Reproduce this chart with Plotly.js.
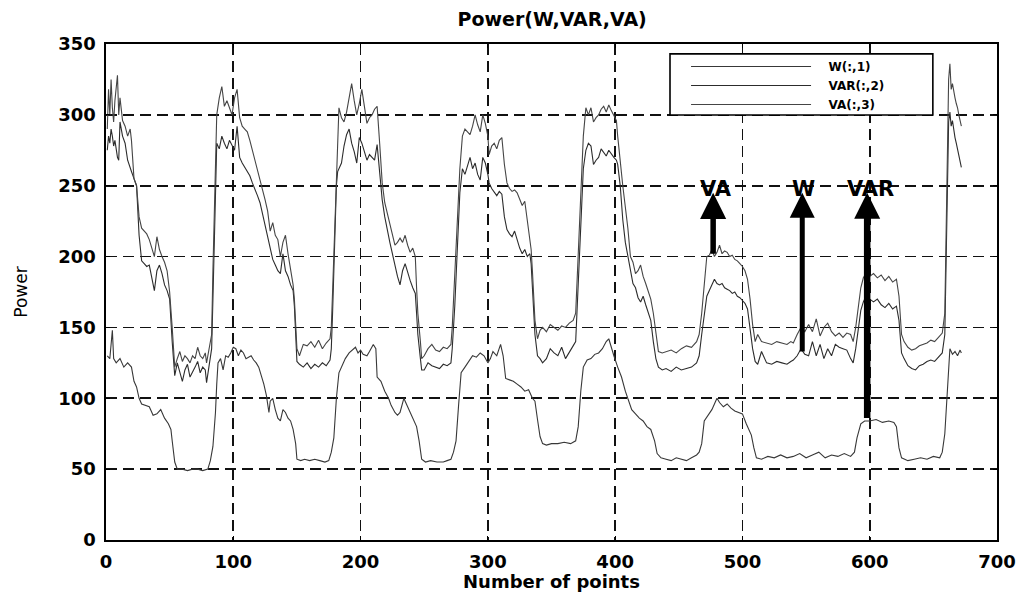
<!DOCTYPE html>
<html>
<head>
<meta charset="utf-8">
<script src="https://cdn.plot.ly/plotly-3.0.1.min.js"></script>
<style>html,body{margin:0;padding:0;background:#fff;}#chart{width:1035px;height:592px;}</style>
</head>
<body>
<div id="chart"></div>
<script>
// ---- Data ----
var wX = [1,3,5,6,8,11,14,17,20,22,24,26,28,31,34,37,40,43,46,49,51,52,54,56,60,64,68,72,76,80,82,84,86,87,88,90,92,94,96,98,100,102,104,106,108,110,112,114,116,118,120,122,124,126,128,129,131,133,135,137,139,141,143,145,147,149,150,153,156,160,164,168,172,175,177,179,181,183,185,188,191,194,196,198,200,202,205,207,210,212,213,216,219,222,224,227,229,231,234,236,238,241,244,246,248,251,255,260,265,268,271,273,275,277,279,282,285,288,291,294,297,300,302,304,307,310,312,314,317,320,323,326,329,332,335,337,339,341,343,346,350,355,360,365,369,371,373,375,378,381,384,387,390,393,395,397,399,402,405,408,410,413,416,419,422,425,428,431,433,436,440,444,448,452,456,460,464,466,468,470,473,476,478,480,482,485,488,491,494,497,500,503,505,507,509,511,515,520,525,530,535,540,545,550,555,560,565,570,575,580,585,588,590,593,596,600,605,610,615,619,621,623,625,630,635,640,645,650,655,657,659,661,662,663,665,667,669,671,672];
var wY = [130,128,148,128,125,128,122,125,122,112,108,100,96,95,94,88,89,92,86,82,78,70,55,50,50,49,50,50,49,50,56,66,90,110,125,128,120,130,129,132,136,135,130,134,132,128,129,130,127,125,122,116,110,102,90,98,100,92,86,84,92,90,86,84,78,68,57,56,57,56,57,56,55,56,62,72,100,118,122,128,132,134,136,132,134,131,130,133,138,135,115,112,105,100,95,90,88,90,100,96,92,86,80,70,57,55,56,55,55,56,57,62,70,95,118,122,126,130,129,132,130,125,128,133,130,138,130,114,113,112,110,108,105,106,100,98,85,73,68,67,68,68,69,68,70,80,105,122,127,128,131,132,135,140,142,135,130,122,115,105,100,92,89,86,84,80,78,70,61,58,57,56,58,57,56,58,60,62,68,84,88,92,96,100,97,94,96,93,91,90,89,82,78,74,65,58,57,59,58,60,58,59,61,58,60,62,58,60,59,61,59,62,72,82,84,84,85,83,84,83,80,65,58,56,57,58,57,59,58,62,75,105,122,135,131,133,130,134,132];

var varX = [1,2,3,4,5,6,7,8,9,10,11,13,15,17,19,20,22,24,26,28,30,32,34,36,38,40,42,44,46,48,50,52,53,54,56,58,60,62,64,66,68,70,72,74,76,78,79,81,83,84,85,86,87,89,91,93,95,97,99,101,103,105,107,109,111,113,115,117,119,121,123,125,127,129,131,133,135,137,139,141,143,145,147,148,149,150,152,155,158,161,164,167,170,173,176,177,178,179,180,181,182,183,185,187,189,191,193,195,197,199,201,203,205,207,209,211,213,215,217,219,221,223,225,227,229,231,233,235,237,239,241,243,244,245,247,248,250,253,256,259,262,265,268,271,272,274,275,277,278,280,282,284,286,288,290,292,294,296,298,300,301,303,305,307,309,311,313,315,317,319,321,323,325,327,329,331,333,334,335,336,337,339,341,343,346,349,352,355,358,361,364,367,369,371,373,375,377,379,381,383,385,387,389,391,393,395,397,399,401,402,404,406,408,410,412,414,416,418,420,422,424,426,428,430,432,434,437,440,444,448,452,456,460,464,466,468,470,472,474,476,478,480,482,484,486,488,490,492,494,496,498,500,502,504,506,508,510,512,515,519,523,527,531,535,538,540,543,546,549,552,555,558,561,564,567,570,573,576,579,582,585,587,589,591,593,595,597,600,603,606,609,612,615,618,621,623,625,627,630,633,636,639,642,645,648,651,654,657,659,660,661,662,663,664,665,666,667,668,669,670,671,672];
var varY = [275,285,280,290,285,278,282,275,270,268,295,285,280,268,262,260,255,250,215,197,195,193,194,186,176,190,194,188,180,176,170,140,124,116,125,118,112,120,124,115,118,122,126,118,122,120,111,125,135,170,210,245,280,276,285,280,276,282,278,275,292,270,266,263,260,257,252,248,243,238,230,222,214,206,198,194,190,188,202,190,186,180,176,165,140,126,124,122,125,121,124,122,125,123,127,135,160,190,220,250,260,262,266,278,286,290,280,274,266,284,280,274,268,272,270,268,279,258,240,228,218,210,202,193,186,180,190,195,188,183,178,174,160,145,128,120,120,125,123,122,121,124,123,125,135,165,190,225,245,262,258,264,270,262,266,258,254,270,266,258,252,248,245,243,246,244,228,219,216,214,218,212,206,202,205,200,202,195,175,160,145,130,128,125,128,135,132,130,136,128,133,137,140,180,230,262,275,280,278,265,268,270,276,273,271,275,272,270,268,265,250,226,210,200,190,181,178,171,168,172,166,160,155,140,128,122,120,121,119,122,120,121,122,125,130,145,160,172,176,180,184,181,180,181,178,177,176,174,175,172,171,169,167,163,150,135,126,124,133,125,124,126,125,124,126,127,130,135,131,130,140,130,138,128,135,130,138,136,135,134,128,125,135,150,162,168,172,170,168,170,166,164,167,163,165,155,132,128,123,121,120,123,124,126,127,126,129,132,145,200,260,295,302,292,296,288,284,280,276,272,268,263];

var vaX = varX;
var vaY = [290,318,300,325,305,295,310,322,328,300,312,296,292,285,290,282,255,250,228,220,218,216,212,205,200,214,205,200,196,190,175,150,132,122,128,133,126,130,128,125,130,128,136,130,128,132,125,135,145,190,230,275,300,312,320,306,310,305,300,312,318,298,292,290,288,282,275,270,262,255,248,240,232,218,224,215,212,200,210,215,202,190,180,170,150,135,130,138,137,140,136,141,135,139,142,150,175,200,230,260,285,305,298,295,302,312,322,310,300,308,318,306,294,298,300,304,306,280,252,238,230,222,215,208,210,213,210,215,208,203,206,200,178,160,140,128,130,135,138,134,133,136,135,138,150,185,205,240,262,285,290,288,286,292,300,293,288,300,294,285,272,278,280,276,282,284,265,252,248,246,247,245,240,236,239,225,215,205,190,170,155,142,148,150,147,152,150,148,151,150,153,155,160,200,250,285,305,300,305,295,298,300,304,306,302,307,303,300,296,285,265,250,235,220,200,196,188,190,194,186,181,176,170,160,145,133,132,133,134,132,135,137,136,140,145,160,180,200,201,205,200,203,208,202,204,203,200,201,198,197,195,193,190,184,170,152,140,145,140,139,138,140,139,138,140,139,145,150,147,152,147,156,144,150,153,147,144,146,143,146,145,140,150,165,178,185,188,186,188,185,187,183,186,182,184,172,145,140,136,134,135,137,138,139,141,140,143,146,160,220,290,325,336,318,322,315,312,308,305,300,296,292];

var xTicks = [0,100,200,300,400,500,600,700];
var yTicks = [0,50,100,150,200,250,300,350];

// arrows: [label, x of arrow, tail y, head y]
var arrowLabels = ['VA','W','VAR'];
var arrowX = [477,547,598];
var arrowTail = [201,132,85];
var arrowHead = [245,245,245];
var arrowWidths = [5.5,5,6.5];
var arrowSizes = [0.95,1.0,0.8];
var labelX = [479,548,601];
var labelY = [248,248,248];

// ---- Plot ----
var font = 'DejaVu Sans, Verdana, sans-serif';
var pad = '\u00a0\u00a0\u00a0';
var traces = [
  {x: wX, y: wY, name: pad + 'W(:,1)', type: 'scatter', mode: 'lines', line: {color: '#383838', width: 1.1}},
  {x: varX, y: varY, name: pad + 'VAR(:,2)', type: 'scatter', mode: 'lines', line: {color: '#2c2c2c', width: 1.1}},
  {x: vaX, y: vaY, name: pad + 'VA(:,3)', type: 'scatter', mode: 'lines', line: {color: '#454545', width: 1.1}}
];

var annotations = [];
for (var i = 0; i < arrowLabels.length; i++) {
  annotations.push({
    x: arrowX[i], y: arrowHead[i], ax: arrowX[i], ay: arrowTail[i],
    xref: 'x', yref: 'y', axref: 'x', ayref: 'y',
    text: '', showarrow: true, arrowhead: 2, arrowsize: arrowSizes[i],
    arrowwidth: arrowWidths[i], arrowcolor: '#000', standoff: 0, startstandoff: 0
  });
  annotations.push({
    x: labelX[i], y: labelY[i], xref: 'x', yref: 'y',
    text: '<b>' + arrowLabels[i] + '</b>', showarrow: false,
    font: {family: font, size: 21, color: '#000'}
  });
}

var axisCommon = {
  showline: true, linecolor: '#000', linewidth: 1.6, mirror: 'ticks',
  ticks: 'inside', ticklen: 4, tickcolor: '#000', tickwidth: 1,
  showgrid: true, gridcolor: '#111', gridwidth: 1.8, griddash: '11px,6px',
  zeroline: false, ticklabelstandoff: 5,
  tickfont: {family: font, size: 18, color: '#000', weight: 'bold'}
};

var layout = {
  width: 1035, height: 592,
  margin: {l: 106, r: 38, t: 44, b: 52},
  paper_bgcolor: '#fff', plot_bgcolor: '#fff',
  title: {text: '<b>Power(W,VAR,VA)</b>', font: {family: font, size: 19, color: '#000'},
          x: 0.5335, xanchor: 'center', y: 0.968, yanchor: 'middle', yref: 'container'},
  xaxis: Object.assign({}, axisCommon, {
    range: [0, 700], tickvals: xTicks,
    title: {text: '<b>Number of points</b>', font: {family: font, size: 18, color: '#000'}, standoff: 3}
  }),
  yaxis: Object.assign({}, axisCommon, {
    range: [0, 350], tickvals: yTicks,
    title: {text: 'Power', font: {family: font, size: 17, color: '#000'}, standoff: 26}
  }),
  showlegend: true,
  legend: {
    x: 0.651, y: 0.984, xanchor: 'left', yanchor: 'top',
    bgcolor: 'rgba(0,0,0,0)', borderwidth: 0, itemwidth: 120,
    font: {family: font, size: 12, color: '#000', weight: 'bold'},
    tracegroupgap: 0
  },
  shapes: [{
    type: 'rect', xref: 'paper', yref: 'paper',
    x0: 0.633, x1: 0.928, y0: 0.857, y1: 0.980,
    fillcolor: '#fff', line: {color: '#000', width: 1.6}, layer: 'above'
  }],
  annotations: annotations
};

Plotly.newPlot('chart', traces, layout, {displayModeBar: false, staticPlot: true});
</script>
</body>
</html>
